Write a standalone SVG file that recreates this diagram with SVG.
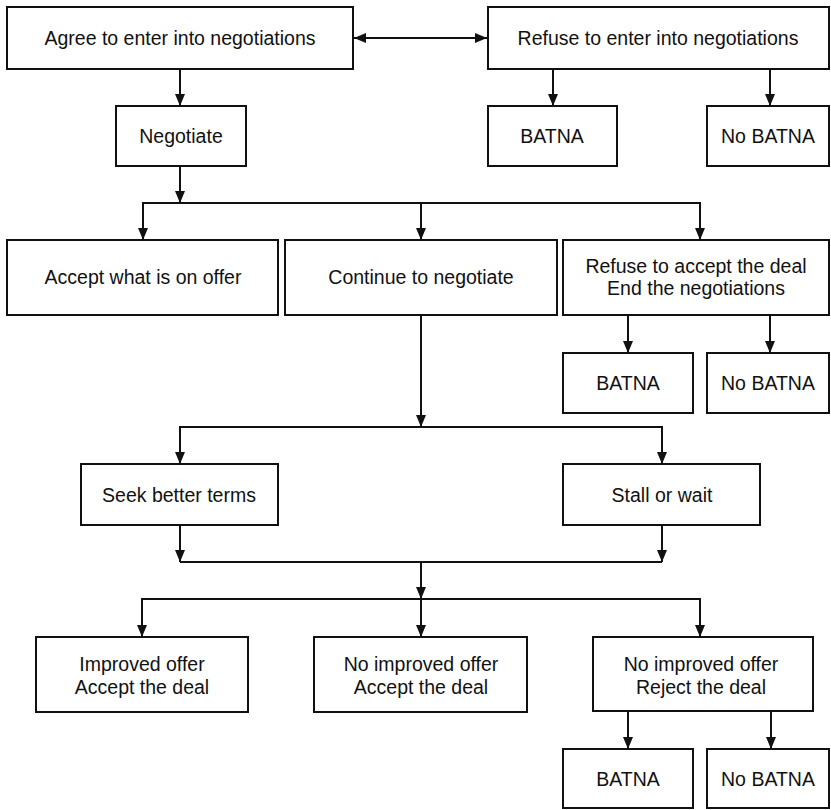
<svg xmlns="http://www.w3.org/2000/svg" width="831" height="810" viewBox="0 0 831 810">
  <style>
    .box { fill: #fff; stroke: #111; stroke-width: 2; }
    .lbl { font-family: "Liberation Sans", Arial, sans-serif; font-size: 19.5px; fill: #111; text-anchor: middle; }
    .wire { fill: none; stroke: #111; stroke-width: 2; }
  </style>
  <defs>
    <marker id="arrow" viewBox="0 0 12 10" refX="12" refY="5" markerWidth="12" markerHeight="10" markerUnits="userSpaceOnUse" orient="auto-start-reverse">
      <path d="M0,0 L12,5 L0,10 Z" fill="#111"/>
    </marker>
  </defs>
  <rect width="831" height="810" fill="#fff"/>

  <g id="connectors">
    <!-- agree <-> refuse -->
    <line class="wire" x1="354" y1="38" x2="487" y2="38" marker-start="url(#arrow)" marker-end="url(#arrow)"/>
    <line class="wire" x1="180" y1="69" x2="180" y2="106" marker-end="url(#arrow)"/>
    <line class="wire" x1="553" y1="69" x2="553" y2="106" marker-end="url(#arrow)"/>
    <line class="wire" x1="770" y1="69" x2="770" y2="106" marker-end="url(#arrow)"/>
    <!-- negotiate fan-out -->
    <line class="wire" x1="180" y1="166" x2="180" y2="203" marker-end="url(#arrow)"/>
    <polyline class="wire" points="143,240 143,203 700,203 700,240"/>
    <line class="wire" x1="143" y1="203" x2="143" y2="240" marker-end="url(#arrow)"/>
    <line class="wire" x1="421" y1="203" x2="421" y2="240" marker-end="url(#arrow)"/>
    <line class="wire" x1="700" y1="203" x2="700" y2="240" marker-end="url(#arrow)"/>
    <line class="wire" x1="628" y1="315" x2="628" y2="353" marker-end="url(#arrow)"/>
    <line class="wire" x1="770" y1="315" x2="770" y2="353" marker-end="url(#arrow)"/>
    <!-- continue branch -->
    <line class="wire" x1="421" y1="315" x2="421" y2="427" marker-end="url(#arrow)"/>
    <polyline class="wire" points="180,464 180,427 662,427 662,464"/>
    <line class="wire" x1="180" y1="427" x2="180" y2="464" marker-end="url(#arrow)"/>
    <line class="wire" x1="662" y1="427" x2="662" y2="464" marker-end="url(#arrow)"/>
    <line class="wire" x1="180" y1="525" x2="180" y2="562" marker-end="url(#arrow)"/>
    <line class="wire" x1="662" y1="525" x2="662" y2="562" marker-end="url(#arrow)"/>
    <line class="wire" x1="180" y1="562" x2="662" y2="562"/>
    <line class="wire" x1="421" y1="562" x2="421" y2="599" marker-end="url(#arrow)"/>
    <!-- outcome fan-out -->
    <polyline class="wire" points="142,637 142,599 700,599 700,637"/>
    <line class="wire" x1="142" y1="599" x2="142" y2="637" marker-end="url(#arrow)"/>
    <line class="wire" x1="421" y1="599" x2="421" y2="637" marker-end="url(#arrow)"/>
    <line class="wire" x1="700" y1="599" x2="700" y2="637" marker-end="url(#arrow)"/>
    <line class="wire" x1="628" y1="711" x2="628" y2="749" marker-end="url(#arrow)"/>
    <line class="wire" x1="771" y1="711" x2="771" y2="749" marker-end="url(#arrow)"/>
  </g>

  <g id="agree">
    <rect class="box" x="7" y="7" width="346" height="62"/>
    <text class="lbl" x="180" y="45">Agree to enter into negotiations</text>
  </g>
  <g id="refuse">
    <rect class="box" x="488" y="7" width="341" height="62"/>
    <text class="lbl" x="658" y="45">Refuse to enter into negotiations</text>
  </g>
  <g id="negotiate">
    <rect class="box" x="116" y="106" width="130" height="60"/>
    <text class="lbl" x="181" y="143">Negotiate</text>
  </g>
  <g id="batna1">
    <rect class="box" x="488" y="106" width="129" height="60"/>
    <text class="lbl" x="552" y="143">BATNA</text>
  </g>
  <g id="nobatna1">
    <rect class="box" x="707" y="106" width="122" height="60"/>
    <text class="lbl" x="768" y="143">No BATNA</text>
  </g>
  <g id="accept">
    <rect class="box" x="7" y="240" width="271" height="75"/>
    <text class="lbl" x="143" y="284">Accept what is on offer</text>
  </g>
  <g id="continue">
    <rect class="box" x="285" y="240" width="272" height="75"/>
    <text class="lbl" x="421" y="284">Continue to negotiate</text>
  </g>
  <g id="refuse-deal">
    <rect class="box" x="563" y="240" width="266" height="75"/>
    <text class="lbl" x="696" y="273">Refuse to accept the deal</text>
    <text class="lbl" x="696" y="295">End the negotiations</text>
  </g>
  <g id="batna2">
    <rect class="box" x="563" y="353" width="130" height="60"/>
    <text class="lbl" x="628" y="390">BATNA</text>
  </g>
  <g id="nobatna2">
    <rect class="box" x="707" y="353" width="122" height="60"/>
    <text class="lbl" x="768" y="390">No BATNA</text>
  </g>
  <g id="seek">
    <rect class="box" x="81" y="464" width="197" height="61"/>
    <text class="lbl" x="179" y="502">Seek better terms</text>
  </g>
  <g id="stall">
    <rect class="box" x="563" y="464" width="197" height="61"/>
    <text class="lbl" x="662" y="502">Stall or wait</text>
  </g>
  <g id="improved">
    <rect class="box" x="36" y="637" width="212" height="75"/>
    <text class="lbl" x="142" y="671">Improved offer</text>
    <text class="lbl" x="142" y="694">Accept the deal</text>
  </g>
  <g id="no-improved-accept">
    <rect class="box" x="314" y="637" width="213" height="75"/>
    <text class="lbl" x="421" y="671">No improved offer</text>
    <text class="lbl" x="421" y="694">Accept the deal</text>
  </g>
  <g id="no-improved-reject">
    <rect class="box" x="593" y="637" width="220" height="74"/>
    <text class="lbl" x="701" y="671">No improved offer</text>
    <text class="lbl" x="701" y="694">Reject the deal</text>
  </g>
  <g id="batna3">
    <rect class="box" x="563" y="749" width="130" height="59"/>
    <text class="lbl" x="628" y="786">BATNA</text>
  </g>
  <g id="nobatna3">
    <rect class="box" x="707" y="749" width="122" height="59"/>
    <text class="lbl" x="768" y="786">No BATNA</text>
  </g>
</svg>
